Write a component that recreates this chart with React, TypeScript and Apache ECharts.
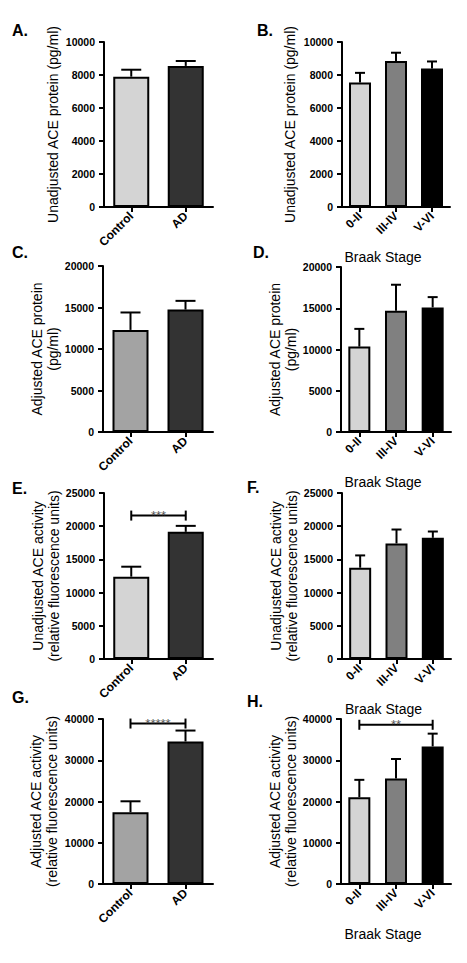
import * as echarts from "echarts";
import { useEffect, useRef } from "react";

// categories
const groups = ["Control", "AD"];
const stages = ["0-II", "III-IV", "V-VI"];

// A. unadjusted ACE protein by group
const rawProteinGroupMean = [7900, 8550];
const rawProteinGroupSem = [420, 300];
// B. unadjusted ACE protein by Braak stage
const rawProteinStageMean = [7550, 8850, 8400];
const rawProteinStageSem = [580, 500, 420];
// C. adjusted ACE protein by group
const adjProteinGroupMean = [12300, 14750];
const adjProteinGroupSem = [2100, 1050];
// D. adjusted ACE protein by Braak stage
const adjProteinStageMean = [10350, 14700, 15100];
const adjProteinStageSem = [2150, 3150, 1250];
// E. unadjusted ACE activity by group
const rawActivityGroupMean = [12400, 19150];
const rawActivityGroupSem = [1500, 900];
// F. unadjusted ACE activity by Braak stage
const rawActivityStageMean = [13750, 17400, 18250];
const rawActivityStageSem = [1850, 2100, 950];
// G. adjusted ACE activity by group
const adjActivityGroupMean = [17400, 34550];
const adjActivityGroupSem = [2650, 2650];
// H. adjusted ACE activity by Braak stage
const adjActivityStageMean = [21050, 25600, 33350];
const adjActivityStageSem = [4200, 4700, 3100];

// y axis ranges [max, interval]
const proteinRawAxis = [10000, 2000];
const proteinAdjAxis = [20000, 5000];
const activityRawAxis = [25000, 5000];
const activityAdjAxis = [40000, 10000];

// significance brackets: [fromIndex, toIndex, y, stars]
const bracketE = [[0, 1, 21600, "***"]];
const bracketG = [[0, 1, 38900, "*****"]];
const bracketH = [[0, 2, 38600, "**"]];

const FONT = "'Liberation Sans', Arial, sans-serif";
const groupColorsLight = ["#d4d4d4", "#333333"];
const groupColorsMid = ["#a3a3a3", "#333333"];
const stageColors = ["#d4d4d4", "#808080", "#000000"];

const panels = [
  { letter: "A.", lx: 12, ly: 30, grid: [104, 42, 109, 165], cats: groups, mean: rawProteinGroupMean, sem: rawProteinGroupSem, colors: groupColorsLight, axis: proteinRawAxis, yName: "Unadjusted ACE protein (pg/ml)", gap: 43, bracket: null },
  { letter: "B.", lx: 257, ly: 30, grid: [342, 42, 108, 165], cats: stages, mean: rawProteinStageMean, sem: rawProteinStageSem, colors: stageColors, axis: proteinRawAxis, yName: "Unadjusted ACE protein (pg/ml)", gap: 44, bracket: null },
  { letter: "C.", lx: 12, ly: 252, grid: [103, 266, 110, 166], cats: groups, mean: adjProteinGroupMean, sem: adjProteinGroupSem, colors: groupColorsMid, axis: proteinAdjAxis, yName: "Adjusted ACE protein\n(pg/ml)", gap: 41, bracket: null },
  { letter: "D.", lx: 253, ly: 252, grid: [341, 267, 110, 165], cats: stages, mean: adjProteinStageMean, sem: adjProteinStageSem, colors: stageColors, axis: proteinAdjAxis, yName: "Adjusted ACE protein\n(pg/ml)", gap: 42, bracket: null },
  { letter: "E.", lx: 12, ly: 488, grid: [104, 493, 109, 166], cats: groups, mean: rawActivityGroupMean, sem: rawActivityGroupSem, colors: groupColorsLight, axis: activityRawAxis, yName: "Unadjusted ACE activity\n(relative fluorescence units)", gap: 41, bracket: bracketE },
  { letter: "F.", lx: 247, ly: 487, grid: [342, 493, 109, 166], cats: stages, mean: rawActivityStageMean, sem: rawActivityStageSem, colors: stageColors, axis: activityRawAxis, yName: "Unadjusted ACE activity\n(relative fluorescence units)", gap: 42, bracket: null },
  { letter: "G.", lx: 12, ly: 697, grid: [103, 719, 110, 165], cats: groups, mean: adjActivityGroupMean, sem: adjActivityGroupSem, colors: groupColorsMid, axis: activityAdjAxis, yName: "Adjusted ACE activity\n(relative fluorescence units)", gap: 43, bracket: bracketG },
  { letter: "H.", lx: 247, ly: 701, grid: [341, 719, 110, 165], cats: stages, mean: adjActivityStageMean, sem: adjActivityStageSem, colors: stageColors, axis: activityAdjAxis, yName: "Adjusted ACE activity\n(relative fluorescence units)", gap: 42, bracket: bracketH },
];

function buildOption() {
  const grid: any[] = [];
  const xAxis: any[] = [];
  const yAxis: any[] = [];
  const series: any[] = [];
  const graphic: any[] = [];
  const black = { color: "#000", width: 2 };

  panels.forEach((p, i) => {
    const three = p.cats.length === 3;
    grid.push({ left: p.grid[0], top: p.grid[1], width: p.grid[2], height: p.grid[3], containLabel: false, outerBoundsMode: "none" });
    xAxis.push({
      type: "category",
      gridIndex: i,
      data: p.cats,
      axisLine: { show: true, lineStyle: black },
      axisTick: { show: true, alignWithLabel: true, length: 5, lineStyle: black },
      axisLabel: { interval: 0, rotate: 45, margin: 7, color: "#000", fontSize: 12, fontWeight: "bold", fontFamily: FONT },
      splitLine: { show: false },
      name: three ? "Braak Stage" : "",
      nameLocation: "middle",
      nameGap: 43,
      nameTextStyle: { color: "#000", fontSize: 14, fontFamily: FONT, padding: [0, 26, 0, 0] },
    });
    yAxis.push({
      type: "value",
      gridIndex: i,
      min: 0,
      max: p.axis[0],
      interval: p.axis[1],
      axisLine: { show: true, lineStyle: black },
      axisTick: { show: true, length: 5, lineStyle: black },
      axisLabel: { margin: 9, color: "#000", fontSize: 10.5, fontWeight: "bold", fontFamily: FONT, formatter: (v: number) => String(v) },
      splitLine: { show: false },
      name: p.yName,
      nameLocation: "middle",
      nameRotate: 90,
      nameGap: p.gap,
      nameTextStyle: { color: "#000", fontSize: 14, lineHeight: 16, fontFamily: FONT },
    });
    series.push({
      type: "bar",
      xAxisIndex: i,
      yAxisIndex: i,
      barWidth: three ? 22 : 36,
      data: p.mean.map((v, j) => ({ value: v, itemStyle: { color: p.colors[j] } })),
      itemStyle: { borderColor: "#000", borderWidth: 2 },
    });
    const cap = three ? 10 : 20;
    series.push({
      type: "custom",
      xAxisIndex: i,
      yAxisIndex: i,
      z: 5,
      encode: { x: 0, y: [1, 2] },
      data: p.mean.map((m, j) => [j, m, m + p.sem[j]]),
      renderItem: (_params: any, api: any) => {
        const lo = api.coord([api.value(0), api.value(1)]);
        const hi = api.coord([api.value(0), api.value(2)]);
        const st = { stroke: "#000", lineWidth: 2 };
        return {
          type: "group",
          children: [
            { type: "line", shape: { x1: lo[0], y1: lo[1], x2: hi[0], y2: hi[1] }, style: st },
            { type: "line", shape: { x1: hi[0] - cap / 2, y1: hi[1], x2: hi[0] + cap / 2, y2: hi[1] }, style: st },
          ],
        };
      },
    });
    if (p.bracket) {
      series.push({
        type: "custom",
        xAxisIndex: i,
        yAxisIndex: i,
        z: 6,
        encode: { x: [0, 1], y: 2 },
        data: p.bracket,
        renderItem: (params: any, api: any) => {
          const a = api.coord([api.value(0), api.value(2)]);
          const b = api.coord([api.value(1), api.value(2)]);
          const stars = (p.bracket as any)[params.dataIndex][3];
          const st = { stroke: "#000", lineWidth: 2 };
          return {
            type: "group",
            children: [
              { type: "line", shape: { x1: a[0], y1: a[1], x2: b[0], y2: b[1] }, style: st },
              { type: "line", shape: { x1: a[0], y1: a[1] - 5, x2: a[0], y2: a[1] + 5 }, style: st },
              { type: "line", shape: { x1: b[0], y1: b[1] - 5, x2: b[0], y2: b[1] + 5 }, style: st },
              {
                type: "text",
                x: (a[0] + b[0]) / 2,
                y: a[1],
                style: { text: stars, fill: "#555", fontSize: 13, fontFamily: FONT, align: "center", verticalAlign: "middle" },
              },
            ],
          };
        },
      });
    }
    graphic.push({
      type: "text",
      x: p.lx,
      y: p.ly,
      style: { text: p.letter, fill: "#000", font: `bold 16px ${FONT}`, verticalAlign: "middle" },
    });
  });

  return { animation: false, backgroundColor: "#fff", grid, xAxis, yAxis, series, graphic };
}

export default function App() {
  const chartRef = useRef<HTMLDivElement>(null);

  useEffect(() => {
    document.body.style.margin = "0";
    if (!chartRef.current) return;
    const chart = echarts.init(chartRef.current, undefined, { renderer: "svg" });
    chart.setOption(buildOption());
    return () => chart.dispose();
  }, []);

  return <div ref={chartRef} style={{ width: 467, height: 963 }} />;
}
